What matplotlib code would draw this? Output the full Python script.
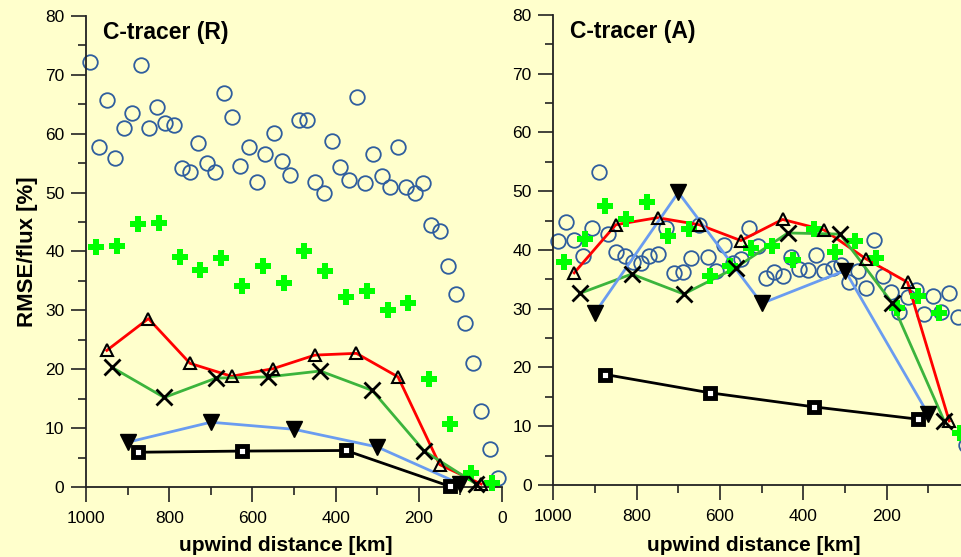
import numpy as np
import matplotlib.pyplot as plt
from matplotlib.ticker import MultipleLocator, FixedLocator

plt.rcParams['font.family'] = ['Liberation Sans', 'DejaVu Sans']

# ---- C-tracer (R) ----
r_circ_x = [990, 969, 950, 930, 909, 889, 869, 849, 829, 809, 789, 770, 750, 730, 710, 689, 669, 649, 629, 609,
            589, 569, 549, 529, 509, 489, 469, 449, 429, 409, 389, 369, 349, 329, 309, 289, 269, 249, 230, 210,
            190, 170, 150, 130, 110, 90, 70, 50, 30, 10]
r_circ_y = [72.2, 57.7, 65.7, 55.8, 61.0, 63.6, 71.6, 61.0, 64.5, 61.9, 61.5, 54.2, 53.5, 58.5, 55.0, 53.5, 67.0, 62.9, 54.6, 57.8,
            51.8, 56.5, 60.1, 55.4, 53.0, 62.3, 62.3, 51.8, 50.0, 58.8, 54.3, 52.1, 66.2, 51.6, 56.5, 52.8, 50.9, 57.8, 50.9, 49.9,
            51.7, 44.5, 43.5, 37.5, 32.7, 27.8, 21.1, 12.9, 6.5, 1.5]
r_plus_x = [975, 925, 875, 825, 775, 725, 675, 625, 575, 525, 475, 425, 375, 325, 275, 225, 175, 125, 75, 25]
r_plus_y = [40.8, 40.9, 44.6, 44.9, 39.1, 36.9, 38.9, 34.1, 37.6, 34.6, 40.1, 36.7, 32.2, 33.3, 30.0, 31.2, 18.3, 10.7, 2.4, 0.7]
r_tri_x = [950, 850, 750, 650, 550, 450, 350, 250, 150, 50]
r_tri_y = [23.2, 28.6, 21.0, 18.8, 20.1, 22.4, 22.7, 18.7, 3.8, 0.5]
r_x_x = [937, 812, 687, 562, 437, 312, 187, 62]
r_x_y = [20.3, 15.2, 18.5, 18.7, 19.7, 16.4, 6.1, 0.5]
r_dn_x = [900, 700, 500, 300, 100]
r_dn_y = [7.6, 11.0, 9.8, 6.8, 0.5]
r_sq_x = [875, 625, 375, 125]
r_sq_y = [5.9, 6.1, 6.2, 0.1]

# ---- C-tracer (A) ----
a_circ_x = [990, 970, 950, 929, 908, 890, 869, 850, 828, 808, 790, 770, 749, 730, 710, 689, 670, 650, 629, 610,
            590, 569, 550, 530, 510, 490, 470, 449, 430, 410, 389, 370, 350, 329, 310, 290, 269, 250, 230, 209,
            190, 170, 149, 130, 110, 89, 70, 50, 29, 10]
a_circ_y = [41.6, 44.8, 41.7, 38.9, 43.7, 53.3, 42.7, 39.7, 38.9, 38.0, 37.7, 39.0, 39.3, 43.8, 36.0, 36.3, 38.7, 44.3, 38.8, 36.5,
            40.9, 37.8, 38.4, 43.7, 40.6, 35.2, 36.3, 35.6, 38.8, 36.7, 36.6, 39.1, 36.5, 36.9, 37.4, 34.6, 36.5, 33.5, 41.7, 35.5,
            32.9, 29.5, 32.0, 33.2, 29.1, 32.2, 29.5, 32.6, 28.6, 6.8]
a_plus_x = [975, 925, 875, 825, 775, 725, 675, 625, 575, 525, 475, 425, 375, 325, 275, 225, 175, 125, 75, 25]
a_plus_y = [37.9, 41.8, 47.5, 45.2, 48.1, 42.3, 43.6, 35.5, 37.2, 40.4, 40.7, 38.3, 43.5, 39.6, 41.6, 38.7, 30.1, 32.2, 29.3, 8.8]
a_tri_x = [950, 850, 750, 650, 550, 450, 350, 250, 150, 50]
a_tri_y = [36.1, 44.3, 45.5, 44.3, 41.6, 45.2, 43.4, 38.5, 34.5, 10.9]
a_x_x = [937, 812, 687, 562, 437, 312, 187, 62]
a_x_y = [32.6, 35.9, 32.5, 37.0, 42.9, 42.7, 31.0, 10.9]
a_dn_x = [900, 700, 500, 300, 100]
a_dn_y = [29.3, 49.8, 30.9, 36.5, 12.0]
a_sq_x = [875, 625, 375, 125]
a_sq_y = [18.8, 15.7, 13.3, 11.2]

bg = '#FFFFCC'
c_circ = '#2F5E9E'
c_plus = '#00FF00'
c_red = '#FF0000'
c_green = '#3CB43C'
c_blue = '#6A9CF0'


def draw_panel(ax, title, cx, cy, px, py, tx, ty, xx, xy, dx, dy, sx, sy, xl_y):
    ax.set_facecolor(bg)
    ax.plot(cx, cy, 'o', ms=10.5, mfc='none', mec=c_circ, mew=1.3, zorder=2, clip_on=False)
    ax.plot(tx, ty, '-', color=c_red, lw=2, zorder=3, clip_on=False)
    ax.plot(tx, ty, '^', ms=9, mfc='none', mec='black', mew=1.5, zorder=6, clip_on=False)
    ax.plot(xx, xy, '-', color=c_green, lw=2, zorder=3, clip_on=False)
    ax.plot(xx, xy, 'x', ms=11, mec='black', mew=2, zorder=6, clip_on=False)
    ax.plot(dx, dy, '-', color=c_blue, lw=2, zorder=3, clip_on=False)
    ax.plot(dx, dy, 'v', ms=11.5, color='black', zorder=6, clip_on=False)
    ax.plot(sx, sy, '-', color='black', lw=2, zorder=3, clip_on=False)
    ax.plot(sx, sy, 's', ms=6.5, mfc='white', mec='black', mew=3.5, zorder=6, clip_on=False)
    ax.plot(px, py, 'P', ms=12, color=c_plus, mec=c_plus, mew=0, zorder=5, clip_on=False)

    ax.set_xlim(1000, 0)
    ax.set_ylim(0, 80)
    ax.xaxis.set_major_locator(MultipleLocator(200))
    ax.xaxis.set_minor_locator(MultipleLocator(100))
    ax.yaxis.set_major_locator(MultipleLocator(10))
    ax.yaxis.set_minor_locator(MultipleLocator(5))
    for s in ['top', 'right']:
        ax.spines[s].set_visible(False)
    for s in ['left', 'bottom']:
        ax.spines[s].set_linewidth(1.3)
        ax.spines[s].set_color('#222222')
    ax.tick_params(which='major', direction='out', length=10.5, width=1.2, labelsize=12.5, color='#222222')
    ax.tick_params(axis='x', which='major', pad=7)
    ax.tick_params(axis='y', which='major', pad=5)
    ax.tick_params(which='minor', direction='out', length=5.5, width=1.2, color='#222222')
    ax.text(0.04, 0.965, title, transform=ax.transAxes, fontsize=16.5, fontweight='bold',
            va='center', ha='left')
    ax.set_xlabel('upwind distance [km]', fontsize=15, fontweight='bold')
    ax.xaxis.set_label_coords(0.48, xl_y)


fig = plt.figure(figsize=(9.61, 5.57), dpi=100, facecolor=bg)
ax1 = fig.add_axes([0.0895, 0.1257, 0.4329, 0.8456])
ax2 = fig.add_axes([0.5758, 0.1293, 0.4336, 0.8438])

draw_panel(ax1, 'C-tracer (R)', r_circ_x, r_circ_y, r_plus_x, r_plus_y, r_tri_x, r_tri_y,
           r_x_x, r_x_y, r_dn_x, r_dn_y, r_sq_x, r_sq_y, -0.104)
draw_panel(ax2, 'C-tracer (A)', a_circ_x, a_circ_y, a_plus_x, a_plus_y, a_tri_x, a_tri_y,
           a_x_x, a_x_y, a_dn_x, a_dn_y, a_sq_x, a_sq_y, -0.108)

# right panel is cut at the figure edge, its 0 tick lies outside
ax2.xaxis.set_major_locator(FixedLocator([1000, 800, 600, 400, 200]))
ax2.xaxis.set_minor_locator(FixedLocator([900, 700, 500, 300, 100]))

ax1.set_ylabel('RMSE/flux [%]', fontsize=16, fontweight='bold')
ax1.yaxis.set_label_coords(-0.115, 0.5)

fig.savefig('out.png', dpi=100, facecolor=bg)
